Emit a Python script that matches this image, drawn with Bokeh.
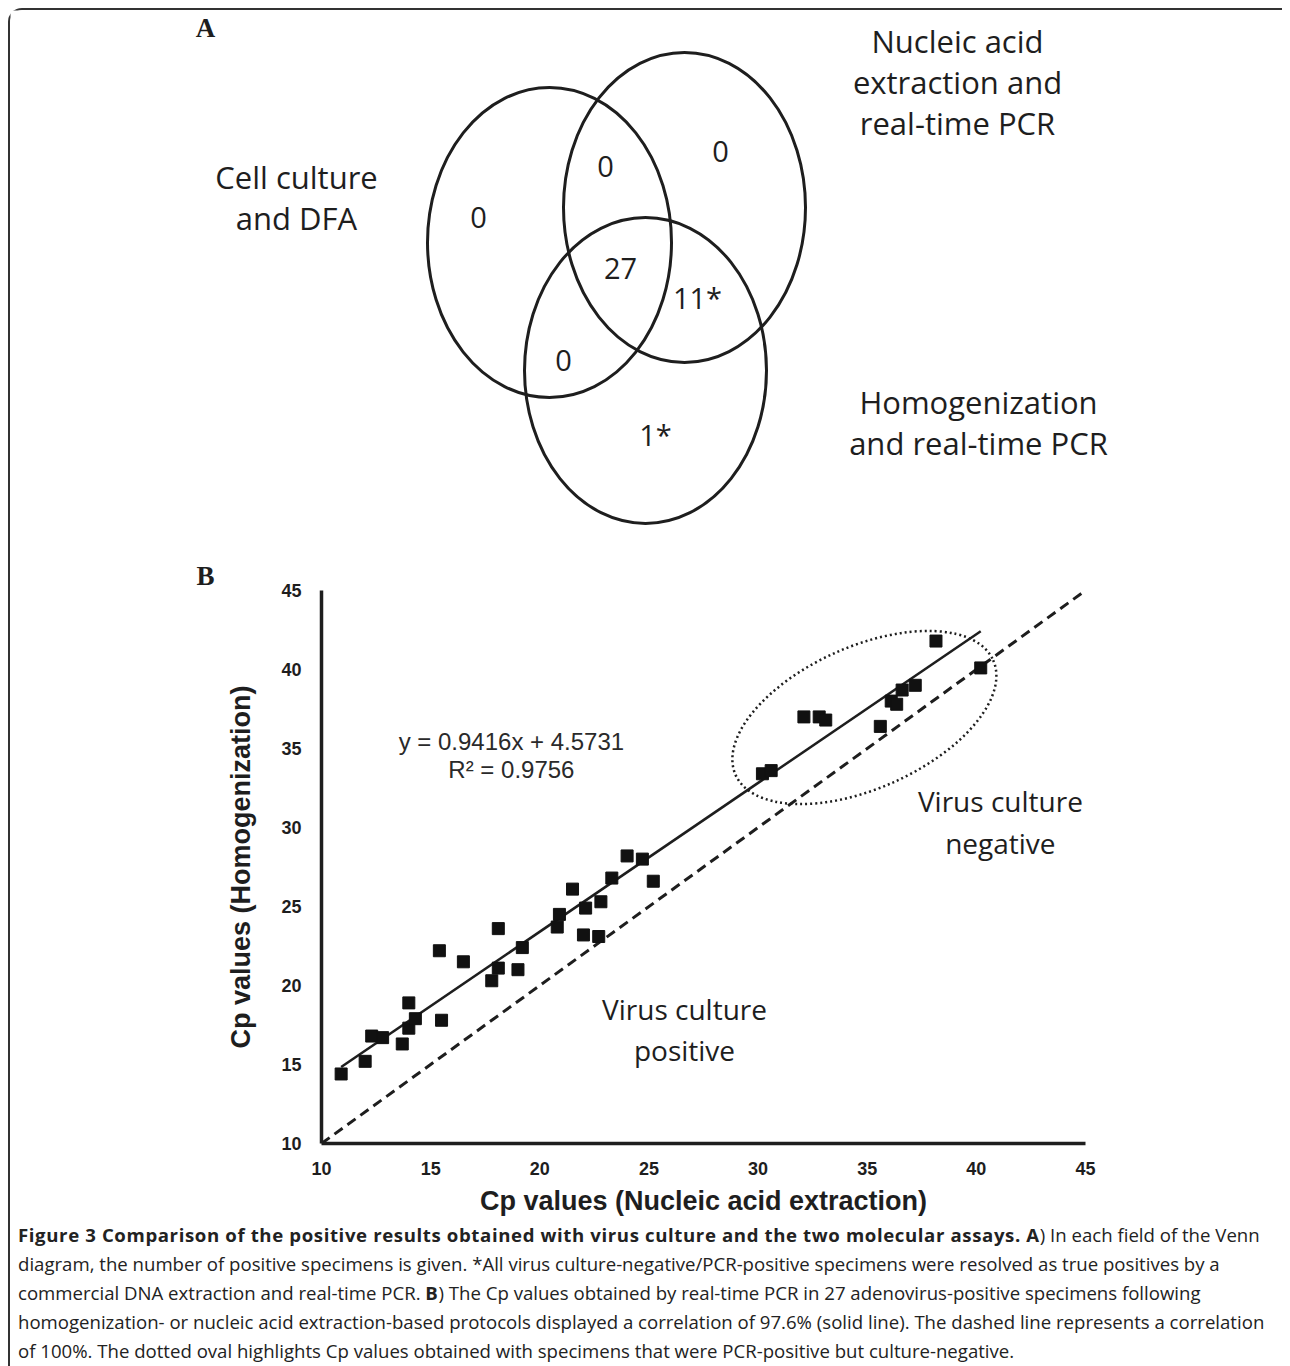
from bokeh.plotting import figure
from bokeh.models import Range1d, Div, Title
from bokeh.layouts import column
from bokeh.core.properties import value
from bokeh.embed import file_html
from bokeh.resources import INLINE
import math

# ---------------- data ----------------
# Venn diagram (panel A)
set_names = [["Cell culture", "and DFA"],
             ["Nucleic acid", "extraction and", "real-time PCR"],
             ["Homogenization", "and real-time PCR"]]
venn_regions = ["cell_only", "cell_nucleic", "nucleic_only", "all_three",
                "nucleic_homog", "cell_homog", "homog_only"]
venn_counts = ["0", "0", "0", "27", "11*", "0", "1*"]

# Scatter (panel B): Cp values
cp_nucleic = [10.9, 12.0, 12.3, 12.8, 13.7, 14.0, 14.0, 14.3, 15.5, 15.4,
              16.5, 17.8, 18.1, 18.1, 19.0, 19.2, 20.8, 20.9, 21.5, 22.0,
              22.1, 22.7, 22.8, 23.3, 24.0, 24.7, 25.2,
              30.2, 30.6, 32.1, 32.8, 33.1, 35.6, 36.1, 36.35, 36.6, 37.2,
              38.15, 40.2]
cp_homog = [14.4, 15.2, 16.8, 16.7, 16.3, 18.9, 17.3, 17.9, 17.8, 22.2,
            21.5, 20.3, 21.1, 23.6, 21.0, 22.4, 23.7, 24.5, 26.1, 23.2,
            24.9, 23.1, 25.3, 26.8, 28.2, 28.0, 26.6,
            33.4, 33.6, 37.0, 37.0, 36.8, 36.4, 38.0, 37.8, 38.7, 39.0,
            41.8, 40.1]
fit_slope = 0.9416
fit_intercept = 4.5731
fit_r2 = 0.9756
axis_ticks = [10, 15, 20, 25, 30, 35, 40, 45]

BOLD = '<span style="font-weight:700;letter-spacing:0.62px">'
caption_html = (
    BOLD + "Figure 3 Comparison of the positive results obtained with virus culture and the two molecular assays. A</span>) In each field of the Venn<br>"
    "diagram, the number of positive specimens is given. *All virus culture-negative/PCR-positive specimens were resolved as true positives by a<br>"
    "commercial DNA extraction and real-time PCR. " + BOLD + "B</span>) The Cp values obtained by real-time PCR in 27 adenovirus-positive specimens following<br>"
    "homogenization- or nucleic acid extraction-based protocols displayed a correlation of 97.6% (solid line). The dashed line represents a correlation<br>"
    "of 100%. The dotted oval highlights Cp values obtained with specimens that were PCR-positive but culture-negative."
)

# ---------------- layout / styling ----------------
INK = "#1e1e1e"
SANS = value("Open Sans")

PX0, PY0 = 8, 8          # outer frame (border) position on the page
BW = 2                   # border width
VX0, VX1, VY0, VY1 = PX0 + BW, 1282, PY0 + BW, 552
W = VX1 - VX0

# Panel A: coordinate space equal to page pixels
venn = figure(width=W, height=VY1 - VY0,
              x_range=Range1d(VX0, VX1), y_range=Range1d(VY1, VY0),
              x_axis_type=None, y_axis_type=None, output_backend="svg",
              toolbar_location=None, min_border=0, frame_align=False)
venn.grid.visible = False
venn.outline_line_color = None

ell_cx = [549, 684, 645]
ell_cy = [242, 207, 370]
ell_w = [244, 242, 242]
ell_h = [310, 310, 306]
venn.ellipse(x=ell_cx, y=ell_cy, width=ell_w, height=ell_h,
             width_units="screen", height_units="screen",
             fill_color=None, line_color=INK, line_width=3)

region_pos = {"cell_only": (478, 217), "cell_nucleic": (605, 166),
              "nucleic_only": (720, 151), "all_three": (620, 268),
              "nucleic_homog": (697, 297), "cell_homog": (563, 360),
              "homog_only": (655, 434)}
venn.text(x=[region_pos[r][0] for r in venn_regions],
          y=[region_pos[r][1] for r in venn_regions],
          text=venn_counts, text_font=SANS, text_font_size="29px",
          text_color=INK, text_align="center", text_baseline="middle")

name_anchor = [(296, 176), (957, 40), (978, 401)]
name_step = 41
lx, ly, lt = [], [], []
for (ax, ay), lines in zip(name_anchor, set_names):
    for i, t in enumerate(lines):
        lx.append(ax)
        ly.append(ay + i * name_step)
        lt.append(t)
venn.text(x=lx, y=ly, text=lt, text_font=SANS, text_font_size="31px",
          text_color=INK, text_align="center", text_baseline="middle")

# panel letter A
venn.text(x=[205], y=[27], text=["A"],
          text_font=value("Liberation Serif"), text_font_style="bold",
          text_font_size="27px", text_color=INK,
          text_align="center", text_baseline="middle")

# Panel B: scatter
FL, FW, FT, FH = 321 - VX0, 764, 590 - VY1, 553
SH = 1220 - VY1
sc = figure(width=W, height=SH,
            x_range=Range1d(10, 45), y_range=Range1d(10, 45),
            output_backend="svg", toolbar_location=None, frame_align=False,
            min_border_left=FL, min_border_right=W - FL - FW,
            min_border_top=FT, min_border_bottom=SH - FT - FH)
sc.title = Title(text="B", align="left", offset=196 - 321,
                 text_font="Liberation Serif", text_font_style="bold",
                 text_font_size="27px", text_color=INK, standoff=0)
sc.grid.visible = False
sc.outline_line_color = None
for ax in (sc.xaxis[0], sc.yaxis[0]):
    ax.ticker = axis_ticks
    ax.axis_line_width = 3.5
    ax.axis_line_color = INK
    ax.major_tick_line_color = None
    ax.minor_tick_line_color = None
    ax.major_label_text_font = "Liberation Sans"
    ax.major_label_text_font_style = "bold"
    ax.major_label_text_font_size = "18px"
    ax.major_label_text_color = INK
    ax.axis_label_text_font = "Liberation Sans"
    ax.axis_label_text_font_style = "bold"
    ax.axis_label_text_font_size = "27px"
    ax.axis_label_text_color = INK
sc.xaxis.axis_label = "Cp values (Nucleic acid extraction)"
sc.yaxis.axis_label = "Cp values (Homogenization)"
sc.xaxis.major_label_standoff = 12
sc.yaxis.major_label_standoff = 14
sc.xaxis.axis_label_standoff = 8
sc.yaxis.axis_label_standoff = 22

# 100% correlation line
sc.line(x=[axis_ticks[0], axis_ticks[-1]], y=[axis_ticks[0], axis_ticks[-1]],
        line_color=INK, line_width=3, line_dash="10 6")
# regression line over the data range
xa, xb = min(cp_nucleic), max(cp_nucleic)
sc.line(x=[xa, xb], y=[fit_slope * xa + fit_intercept, fit_slope * xb + fit_intercept],
        line_color=INK, line_width=2.5)
sc.scatter(x=cp_nucleic, y=cp_homog, marker="square", size=12,
           fill_color="#111111", line_color="#111111")

# dotted oval around culture-negative specimens
sc.ellipse(x=[34.87], y=[36.96], width=[282], height=[142],
           width_units="screen", height_units="screen",
           angle=[math.radians(24)], fill_color=None,
           line_color=INK, line_width=2.5, line_dash="2 3")

sc.text(x=[18.7, 18.7], y=[35.45, 33.7],
        text=[f"y = {fit_slope}x + {fit_intercept}", f"R\u00b2 = {fit_r2}"],
        text_font=value("Liberation Sans"), text_font_size="24px",
        text_color="#2a2a2a", text_align="center", text_baseline="middle")
sc.text(x=[41.1, 41.1, 26.63, 26.63], y=[31.65, 28.99, 18.54, 15.89],
        text=["Virus culture", "negative", "Virus culture", "positive"],
        text_font=SANS, text_font_size="28px", text_color=INK,
        text_align="center", text_baseline="middle")

cap = Div(text=caption_html, width=W, height=1366 - 1220,
          margin=(0, 0, 0, 0),
          styles={"font-family": "Open Sans", "font-size": "18.6px",
                  "line-height": "29px", "color": "#222",
                  "white-space": "nowrap", "padding-left": "8px",
                  "overflow": "hidden"})

page = column(venn, sc, cap, margin=(PY0, 0, 0, PX0),
              styles={"border-left": f"{BW}px solid #333",
                      "border-top": f"{BW}px solid #333",
                      "border-top-left-radius": "14px"})

open("out.html", "w").write(file_html(page, INLINE))
